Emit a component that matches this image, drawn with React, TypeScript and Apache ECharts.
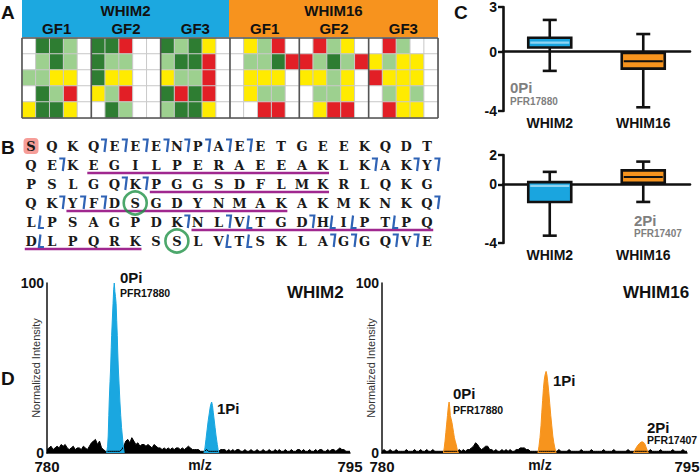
import React, { useEffect, useRef } from "react";
import * as echarts from "echarts";

const SANS = "Liberation Sans, Arial, Helvetica, sans-serif";
const SEQ_FONT = "DejaVu Serif, Liberation Serif, serif";

// ---------- Panel A : heatmap ----------
const cellLines = ["WHIM2", "WHIM16"];
const growthFactors = ["GF1", "GF2", "GF3", "GF1", "GF2", "GF3"];
// 0 = white, 1 = dark green, 2 = light green, 3 = yellow, 4 = red
const heatRows: number[][] = [
  [0,1,1,2,0, 1,1,4,0,0, 1,2,1,3,0, 0,3,2,4,0, 0,4,2,3,0, 0,4,2,0,0],
  [0,2,1,2,0, 1,2,2,0,0, 2,1,1,4,0, 0,2,2,1,4, 4,2,1,2,4, 3,2,3,3,0],
  [2,2,3,3,0, 1,3,3,0,0, 3,2,2,4,0, 0,3,3,3,0, 3,3,2,3,0, 4,3,3,3,0],
  [0,1,2,4,0, 3,2,4,0,0, 1,4,1,4,0, 0,3,2,2,0, 0,2,2,3,0, 0,2,3,2,0],
  [3,1,1,3,0, 0,1,2,0,0, 2,1,1,3,0, 0,0,4,4,0, 0,3,4,4,0, 0,4,3,3,0],
];
const heatColors = ["#ffffff", "#2e7d32", "#9dd08f", "#ffeb00", "#e21f26"];
const groupBounds = [0, 5, 10, 15, 20, 25, 30];

// ---------- Panel B : sequence ----------
const seqRows = [
  "SQKQEEENPAEETGEEKQDT",
  "QEKEGILPERAEEAKLKAKY",
  "PSLGQKPGGSDFLMKRLQKG",
  "QKYFDSGDYNMAKAKMKNKQ",
  "LPSAGPDKNLVTGDHIPTPQ",
  "DLPQRKSSLVTSKLAGGQVE",
];
// [row, index of residue before the cut]
const bIonCuts = [
  [0,3],[0,4],[0,5],[0,6],[0,7],[0,8],[0,9],[0,10],
  [1,1],[1,16],[1,18],[1,19],
  [2,4],[2,5],
  [3,1],[3,2],[3,3],[3,19],
  [4,7],[4,9],[4,13],
  [5,14],[5,15],[5,17],[5,18],
];
const yIonCuts = [
  [4,0],[4,10],[4,14],[4,15],[4,17],
  [5,0],[5,9],[5,10],
];
// [row, first residue, last residue]
const peptides = [[1,3,14],[2,6,14],[3,2,12],[4,8,19],[5,0,5]];
const phosphoSites = [[5,3],[7,5]];
const nTermSite = [[0,0]];

// ---------- Panel C : box plots ----------
const boxCategories = ["WHIM2", "WHIM16"];
// [index, min, q1, median, q3, max]
const box0Pi = [[0,-1.3,0.27,0.6,0.93,2.13],[1,-3.75,-1.15,-0.65,-0.1,1.18]];
const box2Pi = [[0,-3.5,-1.2,-0.1,0.15,0.85],[1,-1.2,0.1,0.5,0.95,1.55]];
const boxColors = ["#1aa5df", "#f7941e"];
const medianColors = ["#8fd4f2", "#111111"];

// ---------- Panel D : spectra ----------
const mzStart = 780;
const mzStep = 0.1;
const noiseWHIM2 = [
  2,3,4,2,3,4,3,5,4,5,
  3,2,3,4,2,3,3,2,4,3,
  2,4,6,7,8,5,7,3,2,1,
  1,1,1,1,1,1,1,2,4,7,
  8,6,9,7,5,6,4,5,5,4,
  5,4,3,5,4,3,3,2,3,2,
  3,2,3,2,3,3,2,3,2,3,
  4,3,2,2,2,2,1,1,1,2,
  1,1,1,1,1,1,2,2,2,1,
  2,1,2,1,2,2,1,1,2,1,
  1,2,1,1,2,1,1,2,1,1,
  2,1,1,2,1,2,1,1,2,1,
  1,2,1,1,2,2,1,2,1,1,
  2,1,1,2,1,2,2,1,1,2,
  1,2,2,1,2,3,2,2,1,1,
  1,
];
const noiseWHIM16 = [
  1,2,1,1,2,1,1,2,1,1,
  1,1,2,1,1,1,2,1,1,2,
  1,1,2,1,1,2,1,1,1,1,
  1,1,1,1,1,1,1,1,2,1,
  2,1,2,2,3,4,6,5,3,2,
  3,4,4,2,2,1,2,1,1,2,
  1,2,1,2,1,1,2,2,3,3,
  3,2,2,1,1,1,1,1,1,1,
  1,1,1,1,1,1,1,2,1,1,
  1,1,2,1,1,1,1,1,2,1,
  1,1,1,2,1,1,1,1,1,2,
  1,1,1,1,2,1,1,1,1,1,
  1,2,1,1,1,1,1,1,1,1,
  1,1,2,1,1,1,1,2,1,1,
  1,1,1,2,1,1,1,1,2,1,
  1,
];
const peak0PiWHIM2 = [[782.95,0],[783.0,4],[783.03,10],[783.06,22],[783.08,30],[783.12,42],[783.15,50],[783.18,62],[783.2,69],[783.24,80],[783.27,88],[783.3,96],[783.33,100],[783.36,95],[783.39,92],[783.42,88],[783.45,78],[783.48,69],[783.5,60],[783.53,50],[783.57,40],[783.61,30],[783.65,22],[783.69,15],[783.73,10],[783.77,5],[783.82,0]];
const peak1PiWHIM2 = [[787.77,0],[787.82,3],[787.87,8],[787.93,14],[787.98,19],[788.03,23],[788.08,27],[788.12,29],[788.15,30],[788.19,28],[788.23,24],[788.27,20],[788.32,15],[788.37,10],[788.43,5],[788.47,2],[788.51,0]];
const peak0PiWHIM16 = [[783.02,0],[783.06,3],[783.1,7],[783.14,12],[783.18,17],[783.22,22],[783.26,27],[783.3,30],[783.33,27],[783.36,22],[783.4,20],[783.44,18],[783.48,15],[783.52,12],[783.56,9],[783.6,7],[783.65,5],[783.7,2],[783.76,0]];
const peak1PiWHIM16 = [[787.67,0],[787.72,4],[787.77,9],[787.82,16],[787.86,24],[787.9,31],[787.94,38],[787.98,43],[788.02,46],[788.07,48],[788.11,46],[788.15,42],[788.2,36],[788.25,29],[788.3,22],[788.35,16],[788.4,10],[788.45,6],[788.5,3],[788.56,0]];
const peak2PiWHIM16 = [[792.37,0],[792.45,2],[792.55,4],[792.65,5.5],[792.75,6.5],[792.84,6.5],[792.92,5.5],[793.0,3],[793.06,1],[793.1,0]];

const BLUE = "#1aa7e0";
const ORANGE = "#f7941d";

function buildOption() {
  const heatData: number[][] = [];
  heatRows.forEach((row, r) => row.forEach((v, c) => heatData.push([c, r, v])));

  const letters: { c: number; r: number; t: string }[] = [];
  seqRows.forEach((s, r) => s.split("").forEach((t, c) => letters.push({ c, r, t })));

  const noisePairs = (arr: number[]) => arr.map((v, i) => [+(mzStart + i * mzStep).toFixed(2), v]);

  const boxRender = (params: any, api: any) => {
    const i = api.value(0);
    const pMin = api.coord([i, api.value(1)]);
    const pQ1 = api.coord([i, api.value(2)]);
    const pMed = api.coord([i, api.value(3)]);
    const pQ3 = api.coord([i, api.value(4)]);
    const pMax = api.coord([i, api.value(5)]);
    const band = api.size([1, 0])[0];
    const bw = band * 0.46;
    const cw = band * 0.15;
    const cx = pMin[0];
    const stroke = { stroke: "#111", lineWidth: 2.6 };
    return {
      type: "group",
      children: [
        { type: "line", shape: { x1: cx, y1: pMax[1], x2: cx, y2: pMin[1] }, style: stroke },
        { type: "line", shape: { x1: cx - cw / 2, y1: pMax[1], x2: cx + cw / 2, y2: pMax[1] }, style: stroke },
        { type: "line", shape: { x1: cx - cw / 2, y1: pMin[1], x2: cx + cw / 2, y2: pMin[1] }, style: stroke },
        { type: "rect", shape: { x: cx - bw / 2, y: pQ3[1], width: bw, height: pQ1[1] - pQ3[1] }, style: { fill: boxColors[i], stroke: "#111", lineWidth: 2.6 } },
        { type: "line", shape: { x1: cx - bw / 2 + 2, y1: pMed[1], x2: cx + bw / 2 - 2, y2: pMed[1] }, style: { stroke: medianColors[i], lineWidth: 2.2 } },
      ],
    };
  };

  const labelText = (text: string, x: number, y: number, size: number, color = "#111", weight: any = "bold", align = "left") => ({
    type: "text",
    x,
    y,
    style: { text, fill: color, font: `${weight} ${size}px ${SANS}`, align, verticalAlign: "middle" },
    z: 100,
  });

  const headerLeft = 22, headerMid = 229, headerRight = 438;
  const gfW = (headerRight - headerLeft) / 6;

  const graphic: any[] = [
    { type: "rect", shape: { x: headerLeft, y: 0, width: headerMid - headerLeft, height: 37 }, style: { fill: "#1ca8e0" }, z: 1 },
    { type: "rect", shape: { x: headerMid, y: 0, width: headerRight - headerMid, height: 37 }, style: { fill: "#f7931e" }, z: 1 },
    labelText(cellLines[0], (headerLeft + headerMid) / 2, 10, 15, "#111", "bold", "center"),
    labelText(cellLines[1], (headerMid + headerRight) / 2, 10, 15, "#111", "bold", "center"),
    ...growthFactors.map((g, k) => labelText(g, headerLeft + gfW * (k + 0.5), 28, 15, "#111", "bold", "center")),
    labelText("A", 1, 12, 19),
    labelText("B", 1, 147, 19),
    labelText("C", 454, 12, 19),
    labelText("D", 1, 378, 19),
    labelText("0Pi", 510, 87, 15, "#7f7f7f"),
    labelText("PFR17880", 510, 101, 10, "#7f7f7f"),
    labelText("2Pi", 634, 220, 15, "#7f7f7f"),
    labelText("PFR17407", 634, 233, 10, "#7f7f7f"),
    labelText("0Pi", 120, 277, 15),
    labelText("PFR17880", 120, 293, 10.5),
    labelText("1Pi", 217, 408, 15),
    labelText("WHIM2", 287, 292, 17),
    labelText("0Pi", 453, 393, 15),
    labelText("PFR17880", 453, 410, 10.5),
    labelText("1Pi", 553, 380, 15),
    labelText("2Pi", 647, 427, 15),
    labelText("PFR17407", 647, 440, 10.5),
    labelText("WHIM16", 623, 292, 17),
    labelText("m/z", 200, 465, 14, "#111", "bold", "center"),
    labelText("m/z", 540, 465, 14, "#111", "bold", "center"),
  ];

  const boxYAxis = (gridIndex: number, min: number, max: number, vals: number[]) => ({
    type: "value",
    gridIndex,
    min,
    max,
    splitLine: { show: false },
    axisLine: { show: true, lineStyle: { color: "#111", width: 2.6 } },
    axisTick: { show: true, customValues: vals, length: 5, lineStyle: { color: "#111", width: 2.4 } },
    axisLabel: { customValues: vals, color: "#111", fontFamily: SANS, fontWeight: "bold", fontSize: 14, margin: 6 },
  });
  const boxXAxis = (gridIndex: number) => ({
    type: "category",
    gridIndex,
    data: boxCategories,
    axisLine: { show: true, lineStyle: { color: "#111", width: 2.6 } },
    axisTick: { show: false },
    axisLabel: { color: "#111", fontFamily: SANS, fontWeight: "bold", fontSize: 14, margin: 5 },
  });
  const specXAxis = (gridIndex: number) => ({
    type: "value",
    gridIndex,
    min: 780,
    max: 795,
    splitLine: { show: false },
    axisLine: { show: true, onZero: false, lineStyle: { color: "#111", width: 1.5 } },
    axisTick: { show: false },
    axisLabel: { customValues: [780, 795], color: "#111", fontFamily: SANS, fontWeight: "bold", fontSize: 15, margin: 6 },
  });
  const specYAxis = (gridIndex: number) => ({
    type: "value",
    gridIndex,
    min: 0,
    max: 100,
    splitLine: { show: false },
    axisLine: { show: true, lineStyle: { color: "#111", width: 1.5 } },
    axisTick: { show: false },
    axisLabel: { customValues: [0, 100], color: "#111", fontFamily: SANS, fontWeight: "bold", fontSize: 14, margin: 3 },
    name: "Normalized Intensity",
    nameLocation: "middle",
    nameGap: 6,
    nameMoveOverlap: false,
    nameTextStyle: { color: "#333", fontFamily: SANS, fontSize: 11 },
  });

  const hidden = { show: false };
  const gridBase = { outerBoundsMode: "none", containLabel: false, show: false };

  return {
    animation: false,
    backgroundColor: "#ffffff",
    textStyle: { fontFamily: SANS },
    graphic,
    grid: [
      { ...gridBase, left: 22, top: 38, width: 416, height: 80 },
      { ...gridBase, left: 20.6, top: 136.5, width: 416.8, height: 114 },
      { ...gridBase, left: 503, top: 7, width: 187, height: 104 },
      { ...gridBase, left: 503, top: 155, width: 187, height: 88 },
      { ...gridBase, left: 47, top: 283, width: 303, height: 170 },
      { ...gridBase, left: 382, top: 283, width: 305, height: 170 },
    ],
    xAxis: [
      { type: "category", gridIndex: 0, data: heatRows[0].map((_, i) => i), axisLine: hidden, axisTick: hidden, axisLabel: hidden, splitLine: hidden },
      { type: "value", gridIndex: 1, min: -0.5, max: 19.5, axisLine: hidden, axisTick: hidden, axisLabel: hidden, splitLine: hidden },
      boxXAxis(2),
      boxXAxis(3),
      specXAxis(4),
      specXAxis(5),
    ],
    yAxis: [
      { type: "category", gridIndex: 0, inverse: true, data: heatRows.map((_, i) => i), axisLine: hidden, axisTick: hidden, axisLabel: hidden, splitLine: hidden },
      { type: "value", gridIndex: 1, inverse: true, min: -0.5, max: 5.5, axisLine: hidden, axisTick: hidden, axisLabel: hidden, splitLine: hidden },
      boxYAxis(2, -4, 3, [-4, 0, 3]),
      boxYAxis(3, -4, 2, [-4, 0, 2]),
      specYAxis(4),
      specYAxis(5),
    ],
    visualMap: {
      type: "piecewise",
      show: false,
      seriesIndex: 0,
      dimension: 2,
      pieces: heatColors.map((color, value) => ({ value, color })),
    },
    series: [
      {
        type: "heatmap",
        xAxisIndex: 0,
        yAxisIndex: 0,
        data: heatData,
        itemStyle: { borderColor: "#c9c9c9", borderWidth: 1 },
      },
      {
        type: "custom",
        xAxisIndex: 0,
        yAxisIndex: 0,
        data: groupBounds.map((b) => [b, 0]),
        z: 5,
        renderItem: (params: any, api: any) => {
          const b = api.value(0);
          const c0 = api.coord([0, 0]);
          const w = api.size([1, 0])[0];
          const h = api.size([0, 1])[1];
          const left = c0[0] - w / 2;
          const top = c0[1] - h / 2;
          const bottom = top + h * heatRows.length;
          const x = left + b * w;
          const children: any[] = [
            { type: "line", shape: { x1: x, y1: top, x2: x, y2: bottom }, style: { stroke: "#555", lineWidth: 1.6 } },
          ];
          if (params.dataIndex === 0) {
            const right = left + w * heatRows[0].length;
            children.push({ type: "line", shape: { x1: left, y1: top, x2: right, y2: top }, style: { stroke: "#555", lineWidth: 1.6 } });
            children.push({ type: "line", shape: { x1: left, y1: bottom, x2: right, y2: bottom }, style: { stroke: "#555", lineWidth: 1.6 } });
          }
          return { type: "group", children };
        },
      },
      // Panel B
      {
        type: "scatter",
        xAxisIndex: 1,
        yAxisIndex: 1,
        data: nTermSite.map(([r, c]) => [c, r]),
        symbol: "roundRect",
        symbolSize: [15, 16],
        itemStyle: { color: "#f4847e" },
        z: 1,
      },
      {
        type: "custom",
        xAxisIndex: 1,
        yAxisIndex: 1,
        data: letters.map((l) => [l.c, l.r]),
        z: 3,
        renderItem: (params: any, api: any) => {
          const p = api.coord([api.value(0), api.value(1)]);
          return {
            type: "text",
            x: p[0],
            y: p[1],
            style: { text: letters[params.dataIndex].t, fill: "#1a1a1a", font: `bold 13px ${SEQ_FONT}`, align: "center", verticalAlign: "middle" },
          };
        },
      },
      {
        type: "custom",
        xAxisIndex: 1,
        yAxisIndex: 1,
        data: [...bIonCuts.map(([r, c]) => [c + 0.5, r, 0]), ...yIonCuts.map(([r, c]) => [c + 0.5, r, 1])],
        z: 4,
        renderItem: (params: any, api: any) => {
          const p = api.coord([api.value(0), api.value(1)]);
          const kind = api.value(2);
          const pts = kind === 0
            ? [[p[0] - 3, p[1] - 6.5], [p[0] + 2, p[1] - 6.5], [p[0] + 0.5, p[1] + 6]]
            : [[p[0] - 1, p[1] - 6.5], [p[0] - 2.5, p[1] + 6], [p[0] + 2.5, p[1] + 6]];
          return { type: "polyline", shape: { points: pts }, style: { stroke: "#2f63b5", lineWidth: 2.2, fill: "none" } };
        },
      },
      {
        type: "custom",
        xAxisIndex: 1,
        yAxisIndex: 1,
        data: peptides.map(([r, s, e]) => [s - 0.3, e + 0.3, r + 0.42]),
        z: 2,
        renderItem: (params: any, api: any) => {
          const a = api.coord([api.value(0), api.value(2)]);
          const b = api.coord([api.value(1), api.value(2)]);
          return { type: "line", shape: { x1: a[0], y1: a[1], x2: b[0], y2: b[1] }, style: { stroke: "#a0288f", lineWidth: 2.6 } };
        },
      },
      {
        type: "scatter",
        xAxisIndex: 1,
        yAxisIndex: 1,
        data: phosphoSites,
        symbol: "circle",
        symbolSize: 23,
        itemStyle: { color: "rgba(0,0,0,0)", borderColor: "#1f9146", borderWidth: 2.6 },
        z: 5,
      },
      // Panel C
      { type: "custom", xAxisIndex: 2, yAxisIndex: 2, data: box0Pi, renderItem: boxRender, z: 3 },
      { type: "custom", xAxisIndex: 3, yAxisIndex: 3, data: box2Pi, renderItem: boxRender, z: 3 },
      // Panel D
      {
        type: "line", xAxisIndex: 4, yAxisIndex: 4, data: noisePairs(noiseWHIM2), showSymbol: false,
        lineStyle: { color: "#000", width: 1 }, areaStyle: { color: "#000", opacity: 1 },
      },
      {
        type: "line", xAxisIndex: 4, yAxisIndex: 4, data: peak0PiWHIM2, showSymbol: false,
        lineStyle: { color: BLUE, width: 1 }, areaStyle: { color: BLUE, opacity: 1 },
      },
      {
        type: "line", xAxisIndex: 4, yAxisIndex: 4, data: peak1PiWHIM2, showSymbol: false,
        lineStyle: { color: BLUE, width: 1 }, areaStyle: { color: BLUE, opacity: 1 },
      },
      {
        type: "line", xAxisIndex: 5, yAxisIndex: 5, data: noisePairs(noiseWHIM16), showSymbol: false,
        lineStyle: { color: "#000", width: 1 }, areaStyle: { color: "#000", opacity: 1 },
      },
      {
        type: "line", xAxisIndex: 5, yAxisIndex: 5, data: peak0PiWHIM16, showSymbol: false,
        lineStyle: { color: ORANGE, width: 1 }, areaStyle: { color: ORANGE, opacity: 1 },
      },
      {
        type: "line", xAxisIndex: 5, yAxisIndex: 5, data: peak1PiWHIM16, showSymbol: false,
        lineStyle: { color: ORANGE, width: 1 }, areaStyle: { color: ORANGE, opacity: 1 },
      },
      {
        type: "line", xAxisIndex: 5, yAxisIndex: 5, data: peak2PiWHIM16, showSymbol: false,
        lineStyle: { color: ORANGE, width: 1 }, areaStyle: { color: ORANGE, opacity: 1 },
      },
    ],
  };
}

export default function App() {
  const ref = useRef<HTMLDivElement>(null);
  useEffect(() => {
    if (!ref.current) return;
    const chart = echarts.init(ref.current, undefined, { renderer: "svg" });
    chart.setOption(buildOption() as any);
    return () => chart.dispose();
  }, []);
  return <div ref={ref} style={{ position: "absolute", left: 0, top: 0, width: 700, height: 472, background: "#fff" }} />;
}
